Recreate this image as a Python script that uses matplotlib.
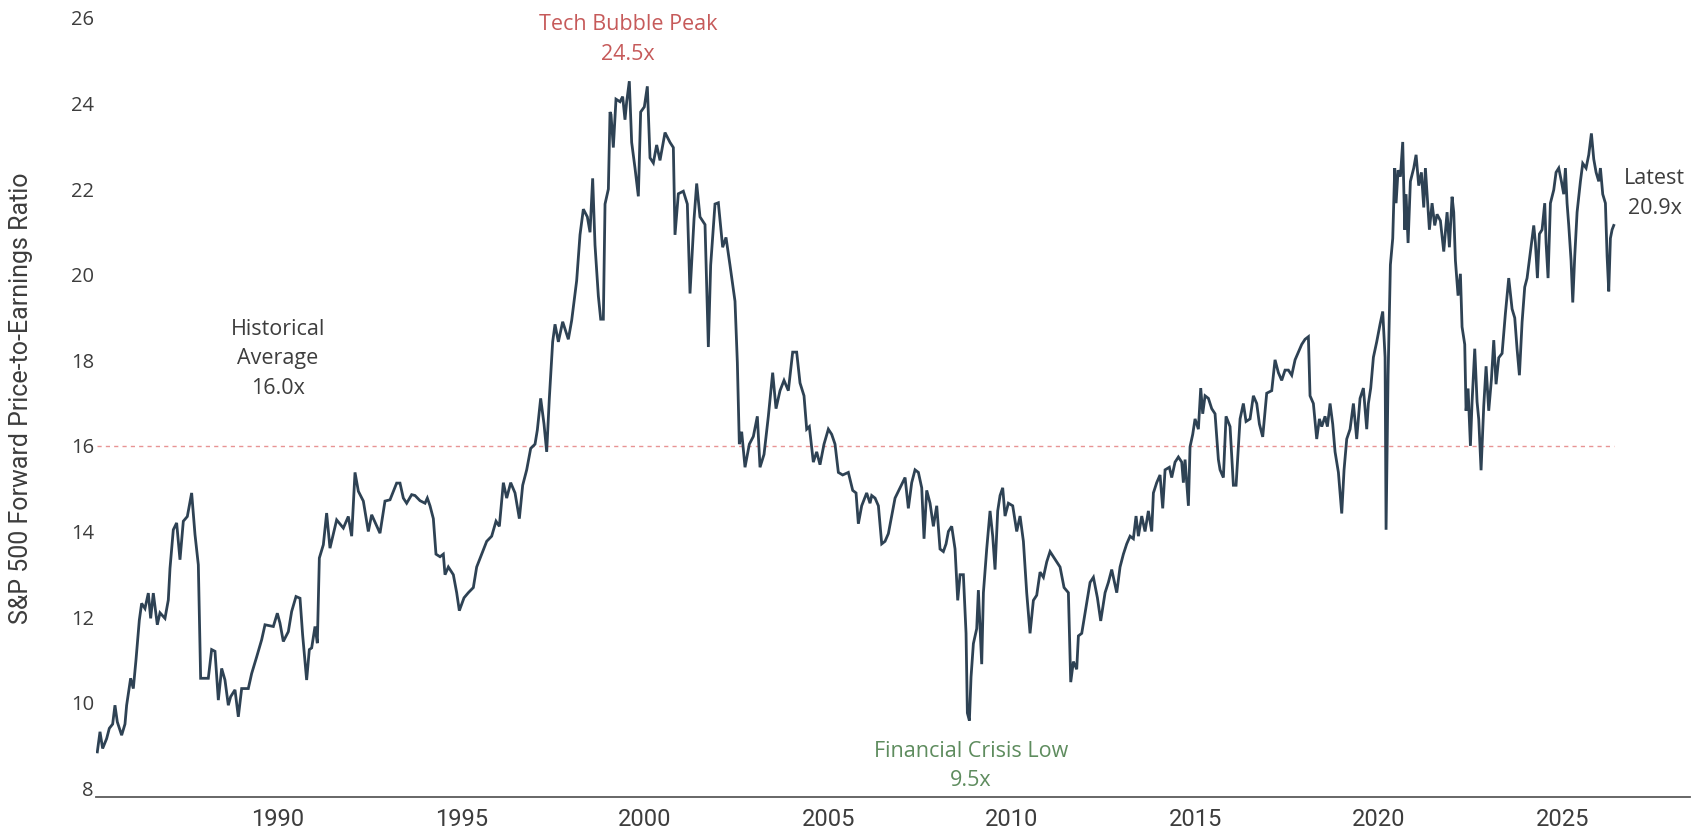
import matplotlib
matplotlib.use("Agg")
from matplotlib import pyplot as plt

# S&P 500 forward P/E (decimal years)
dates = [
    1985.076, 1985.149, 1985.221, 1985.330, 1985.403, 1985.494, 1985.557, 1985.621, 1985.739, 1985.830,
    1985.875, 1985.984, 1986.057, 1986.130, 1986.221, 1986.284, 1986.375, 1986.466, 1986.530, 1986.602,
    1986.711, 1986.784, 1986.920, 1987.011, 1987.057, 1987.147, 1987.238, 1987.329, 1987.420, 1987.529,
    1987.647, 1987.738, 1987.829, 1987.892, 1988.101, 1988.192, 1988.283, 1988.374, 1988.465, 1988.555,
    1988.646, 1988.710, 1988.828, 1988.919, 1989.010, 1989.191, 1989.282, 1989.419, 1989.555, 1989.646,
    1989.873, 1989.982, 1990.054, 1990.145, 1990.282, 1990.372, 1990.491, 1990.600, 1990.672, 1990.781,
    1990.854, 1990.918, 1991.009, 1991.072, 1991.127, 1991.236, 1991.326, 1991.417, 1991.599, 1991.781,
    1991.917, 1992.008, 1992.099, 1992.190, 1992.326, 1992.462, 1992.553, 1992.780, 1992.916, 1993.053,
    1993.234, 1993.325, 1993.416, 1993.507, 1993.643, 1993.734, 1993.870, 1994.007, 1994.070, 1994.143,
    1994.234, 1994.306, 1994.416, 1994.506, 1994.552, 1994.643, 1994.779, 1994.870, 1994.942, 1995.070,
    1995.188, 1995.324, 1995.415, 1995.551, 1995.688, 1995.824, 1995.942, 1996.033, 1996.142, 1996.233,
    1996.342, 1996.460, 1996.578, 1996.669, 1996.778, 1996.887, 1997.005, 1997.068, 1997.159, 1997.250,
    1997.323, 1997.395, 1997.486, 1997.550, 1997.641, 1997.759, 1997.913, 1998.004, 1998.140, 1998.231,
    1998.322, 1998.431, 1998.504, 1998.576, 1998.640, 1998.731, 1998.795, 1998.867, 1998.913, 1999.004,
    1999.049, 1999.076, 1999.139, 1999.212, 1999.321, 1999.394, 1999.457, 1999.503, 1999.575, 1999.639,
    1999.730, 1999.821, 1999.884, 1999.984, 2000.066, 2000.139, 2000.230, 2000.320, 2000.411, 2000.548,
    2000.684, 2000.775, 2000.820, 2000.911, 2001.047, 2001.156, 2001.229, 2001.338, 2001.411, 2001.501,
    2001.638, 2001.729, 2001.792, 2001.910, 2002.001, 2002.119, 2002.210, 2002.319, 2002.455, 2002.519,
    2002.573, 2002.637, 2002.728, 2002.846, 2002.955, 2003.064, 2003.137, 2003.246, 2003.364, 2003.482,
    2003.573, 2003.682, 2003.791, 2003.909, 2004.027, 2004.136, 2004.227, 2004.336, 2004.409, 2004.481,
    2004.590, 2004.681, 2004.772, 2004.881, 2004.999, 2005.090, 2005.181, 2005.272, 2005.390, 2005.544,
    2005.663, 2005.754, 2005.817, 2005.908, 2006.044, 2006.135, 2006.181, 2006.272, 2006.363, 2006.454,
    2006.544, 2006.635, 2006.726, 2006.817, 2006.953, 2007.090, 2007.180, 2007.271, 2007.362, 2007.453,
    2007.544, 2007.607, 2007.680, 2007.771, 2007.862, 2007.953, 2008.043, 2008.134, 2008.207, 2008.271,
    2008.361, 2008.452, 2008.525, 2008.589, 2008.679, 2008.752, 2008.788, 2008.843, 2008.888, 2008.952,
    2009.043, 2009.088, 2009.179, 2009.225, 2009.315, 2009.406, 2009.479, 2009.542, 2009.615, 2009.679,
    2009.751, 2009.815, 2009.906, 2010.024, 2010.133, 2010.224, 2010.315, 2010.405, 2010.496, 2010.587,
    2010.678, 2010.769, 2010.860, 2010.951, 2011.041, 2011.132, 2011.223, 2011.314, 2011.423, 2011.541,
    2011.605, 2011.677, 2011.768, 2011.814, 2011.905, 2011.995, 2012.132, 2012.223, 2012.332, 2012.422,
    2012.541, 2012.631, 2012.722, 2012.859, 2012.949, 2013.040, 2013.131, 2013.222, 2013.312, 2013.385,
    2013.449, 2013.540, 2013.630, 2013.721, 2013.812, 2013.858, 2013.948, 2014.039, 2014.112, 2014.176,
    2014.293, 2014.357, 2014.448, 2014.539, 2014.630, 2014.675, 2014.721, 2014.812, 2014.857, 2014.930,
    2014.993, 2015.084, 2015.148, 2015.202, 2015.266, 2015.357, 2015.447, 2015.538, 2015.629, 2015.675,
    2015.765, 2015.838, 2015.947, 2016.038, 2016.111, 2016.220, 2016.310, 2016.383, 2016.492, 2016.583,
    2016.674, 2016.747, 2016.837, 2016.946, 2017.083, 2017.173, 2017.264, 2017.355, 2017.446, 2017.537,
    2017.628, 2017.719, 2017.810, 2017.900, 2017.991, 2018.082, 2018.127, 2018.218, 2018.309, 2018.382,
    2018.446, 2018.536, 2018.600, 2018.673, 2018.745, 2018.809, 2018.900, 2018.991, 2019.054, 2019.127,
    2019.218, 2019.309, 2019.399, 2019.490, 2019.581, 2019.672, 2019.717, 2019.781, 2019.854, 2019.944,
    2020.035, 2020.108, 2020.172, 2020.199, 2020.254, 2020.317, 2020.381, 2020.435, 2020.472, 2020.526,
    2020.590, 2020.653, 2020.708, 2020.744, 2020.799, 2020.862, 2020.953, 2021.017, 2021.089, 2021.162,
    2021.226, 2021.271, 2021.317, 2021.380, 2021.453, 2021.525, 2021.589, 2021.680, 2021.771, 2021.862,
    2021.925, 2021.998, 2022.043, 2022.089, 2022.161, 2022.225, 2022.270, 2022.343, 2022.379, 2022.434,
    2022.498, 2022.543, 2022.616, 2022.679, 2022.725, 2022.788, 2022.861, 2022.925, 2022.997, 2023.070,
    2023.134, 2023.197, 2023.270, 2023.361, 2023.451, 2023.542, 2023.633, 2023.706, 2023.769, 2023.833,
    2023.906, 2023.978, 2024.042, 2024.133, 2024.224, 2024.269, 2024.324, 2024.378, 2024.451, 2024.523,
    2024.560, 2024.614, 2024.678, 2024.769, 2024.832, 2024.905, 2024.978, 2025.041, 2025.087, 2025.132,
    2025.178, 2025.241, 2025.287, 2025.341, 2025.405, 2025.496, 2025.559, 2025.650, 2025.723, 2025.795,
    2025.859, 2025.923, 2025.995, 2026.041, 2026.104, 2026.177, 2026.223, 2026.268, 2026.313, 2026.359,
    2026.404,
]
pe = [
    8.85, 9.32, 8.93, 9.16, 9.40, 9.50, 9.94, 9.55, 9.24, 9.50,
    9.94, 10.57, 10.33, 11.00, 11.93, 12.32, 12.20, 12.56, 11.97, 12.56,
    11.82, 12.10, 11.97, 12.40, 13.14, 14.04, 14.20, 13.34, 14.24, 14.35,
    14.90, 13.93, 13.22, 10.57, 10.57, 11.24, 11.20, 10.06, 10.80, 10.53,
    9.94, 10.14, 10.30, 9.67, 10.33, 10.33, 10.68, 11.07, 11.47, 11.82,
    11.78, 12.09, 11.86, 11.43, 11.66, 12.13, 12.48, 12.44, 11.58, 10.53,
    11.24, 11.28, 11.78, 11.39, 13.38, 13.69, 14.43, 13.61, 14.27, 14.08,
    14.35, 13.89, 15.38, 14.94, 14.71, 14.00, 14.39, 13.96, 14.71, 14.74,
    15.13, 15.13, 14.78, 14.66, 14.86, 14.84, 14.72, 14.66, 14.78, 14.60,
    14.30, 13.47, 13.41, 13.47, 12.99, 13.17, 12.99, 12.57, 12.15, 12.45,
    12.57, 12.69, 13.17, 13.47, 13.77, 13.89, 14.24, 14.12, 15.14, 14.78,
    15.14, 14.90, 14.30, 15.08, 15.44, 15.94, 16.04, 16.37, 17.11, 16.51,
    15.86, 17.11, 18.43, 18.84, 18.43, 18.90, 18.49, 18.93, 19.86, 20.93,
    21.53, 21.35, 20.99, 22.25, 20.69, 19.50, 18.96, 18.96, 21.65, 22.00,
    23.80, 23.74, 22.97, 24.10, 24.04, 24.16, 23.62, 24.04, 24.52, 23.09,
    22.49, 21.83, 23.80, 23.92, 24.40, 22.73, 22.61, 23.03, 22.67, 23.32,
    23.09, 22.97, 20.93, 21.89, 21.95, 21.65, 19.56, 21.29, 22.13, 21.35,
    21.17, 18.31, 20.22, 21.65, 21.68, 20.64, 20.87, 20.22, 19.38, 17.95,
    16.04, 16.33, 15.50, 16.04, 16.22, 16.69, 15.50, 15.80, 16.69, 17.71,
    16.87, 17.29, 17.53, 17.29, 18.19, 18.19, 17.47, 17.17, 16.39, 16.45,
    15.62, 15.86, 15.56, 16.04, 16.39, 16.27, 16.04, 15.38, 15.32, 15.38,
    14.96, 14.90, 14.18, 14.60, 14.90, 14.66, 14.84, 14.78, 14.60, 13.71,
    13.77, 13.95, 14.36, 14.78, 15.02, 15.26, 14.54, 15.14, 15.44, 15.38,
    15.02, 13.83, 14.96, 14.66, 14.12, 14.60, 13.59, 13.53, 13.71, 14.00,
    14.12, 13.59, 12.39, 12.99, 12.99, 11.62, 9.76, 9.58, 10.60, 11.38,
    11.73, 12.63, 10.90, 12.57, 13.59, 14.48, 13.89, 13.11, 14.48, 14.84,
    15.02, 14.36, 14.66, 14.60, 14.00, 14.36, 13.77, 12.57, 11.62, 12.39,
    12.51, 13.05, 12.93, 13.29, 13.53, 13.41, 13.29, 13.17, 12.69, 12.57,
    10.48, 10.96, 10.78, 11.56, 11.62, 12.09, 12.81, 12.93, 12.45, 11.91,
    12.57, 12.81, 13.11, 12.57, 13.17, 13.47, 13.71, 13.89, 13.83, 14.36,
    13.89, 14.36, 14.00, 14.48, 14.00, 14.90, 15.14, 15.32, 14.54, 15.44,
    15.50, 15.26, 15.62, 15.74, 15.62, 15.14, 15.68, 14.60, 15.98, 16.27,
    16.63, 16.39, 17.35, 16.75, 17.17, 17.11, 16.87, 16.75, 15.68, 15.44,
    15.26, 16.69, 16.45, 15.08, 15.08, 16.63, 16.99, 16.57, 16.63, 17.17,
    16.99, 16.51, 16.21, 17.23, 17.29, 18.01, 17.71, 17.53, 17.77, 17.77,
    17.65, 18.01, 18.19, 18.37, 18.49, 18.55, 17.17, 16.99, 16.16, 16.63,
    16.45, 16.69, 16.45, 16.99, 16.51, 15.86, 15.38, 14.42, 15.44, 16.16,
    16.39, 16.99, 16.16, 17.11, 17.35, 16.39, 16.99, 17.35, 18.07, 18.43,
    18.84, 19.14, 18.07, 14.04, 17.65, 20.23, 20.85, 22.49, 21.67, 22.44,
    22.29, 23.10, 21.05, 21.88, 20.74, 22.18, 22.49, 22.80, 22.08, 22.39,
    21.57, 22.49, 21.88, 21.05, 21.67, 21.15, 21.41, 21.26, 20.54, 21.46,
    20.64, 21.82, 21.46, 20.33, 19.51, 20.02, 18.78, 18.37, 16.82, 17.34,
    16.00, 17.03, 18.27, 17.03, 16.62, 15.43, 16.93, 17.86, 16.82, 17.55,
    18.47, 17.44, 18.06, 18.16, 19.09, 19.92, 19.20, 18.99, 18.27, 17.65,
    18.89, 19.71, 19.92, 20.54, 21.15, 20.74, 19.92, 20.95, 21.05, 21.67,
    20.74, 19.92, 21.67, 21.98, 22.39, 22.49, 22.18, 21.88, 22.49, 21.67,
    21.15, 20.33, 19.35, 20.43, 21.46, 22.18, 22.60, 22.49, 22.80, 23.30,
    22.70, 22.39, 22.18, 22.49, 21.88, 21.67, 20.43, 19.61, 20.85, 21.05,
    21.15,
]

hist_avg = 16.0
x_ticks = [1990, 1995, 2000, 2005, 2010, 2015, 2020, 2025]
x_labels = ["1990", "1995", "2000", "2005", "2010", "2015", "2020", "2025"]
y_ticks = [8, 10, 12, 14, 16, 18, 20, 22, 24, 26]

LINE = "#2e4254"
TXT = "#3d3d3d"

fig = plt.figure(figsize=(17.02, 8.34), dpi=100)
ax = fig.add_axes([0.0564, 0.0444, 0.9365, 0.946])

ax.plot(dates, pe, color=LINE, lw=2.0, solid_joinstyle="miter", zorder=3)
ax.hlines(hist_avg, dates[0], dates[-1], colors="#e89494", lw=1.0,
          linestyles=(0, (3, 3)), zorder=2)

ax.set_xlim(1985.04, 2028.48)
ax.set_ylim(7.797, 26.23)

for s in ["top", "right", "left"]:
    ax.spines[s].set_visible(False)
ax.spines["bottom"].set_color("#5a5a5a")
ax.spines["bottom"].set_linewidth(1.3)

ax.set_xticks(x_ticks)
ax.set_xticklabels(x_labels, family=["Roboto", "DejaVu Sans"], fontsize=17, color=TXT)
ax.set_yticks(y_ticks)
ax.set_yticklabels([str(v) for v in y_ticks], family=["Open Sans", "DejaVu Sans"],
                   fontsize=14.5, color=TXT)
ax.tick_params(axis="x", length=0, pad=8)
ax.tick_params(axis="y", length=0, pad=1.5)

fig.text(0.0125, 0.523, "S&P 500 Forward Price-to-Earnings Ratio", rotation=90,
         ha="center", va="center", fontsize=18, color=TXT,
         family=["Liberation Sans Narrow", "Roboto", "DejaVu Sans"])

ann = dict(ha="center", va="center", fontsize=15.5, linespacing=1.55,
           family=["Open Sans", "DejaVu Sans"])
ax.text(1990.0, 18.03, "Historical\nAverage\n16.0x", color=TXT, **ann)
ax.text(1999.54, 25.5, "Tech Bubble Peak\n24.5x", color="#c65a5a", **ann)
ax.text(2008.89, 8.52, "Financial Crisis Low\n9.5x", color="#5e8c5e", **ann)
ax.text(2027.52, 21.9, "Latest\n20.9x", color=TXT, **ann)

fig.savefig("out.png", dpi=100, facecolor="white")
